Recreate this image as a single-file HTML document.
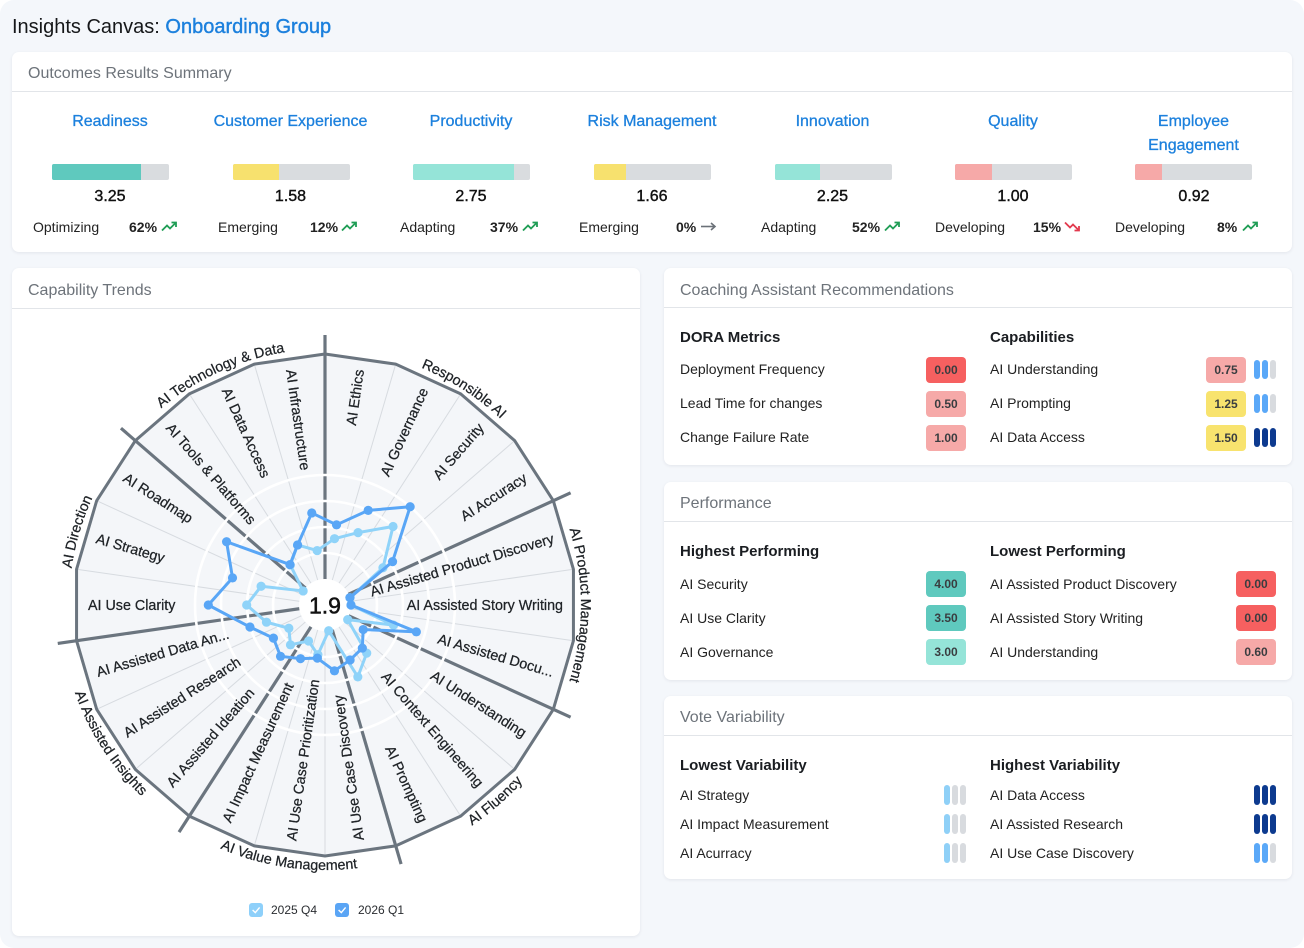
<!DOCTYPE html>
<html><head><meta charset="utf-8">
<style>
*{margin:0;padding:0;box-sizing:border-box}
body{width:1304px;height:948px;background:#fff;font-family:"Liberation Sans",Arial,sans-serif;position:relative;overflow:hidden}
#bg{position:absolute;left:0;top:0;width:1304px;height:948px;background:#f4f7fb;border-radius:14px}
.card{position:absolute;background:#fff;border-radius:7px;box-shadow:0 1px 3px rgba(20,30,50,.08)}
.t{position:absolute;white-space:nowrap;color:#1e2227}
.hd{font-size:16px;line-height:20px;color:#6d737a}
.dv{position:absolute;height:1px;background:#e2e5e9}
.ct{font-size:16px;line-height:24px;color:#1c80dd;text-align:center;width:180px;-webkit-text-stroke:.3px #1c80dd;white-space:normal}
.bar{position:absolute;height:16px;background:#d9dcdf;border-radius:2px;overflow:hidden;width:117px;top:164px}
.bar i{position:absolute;left:0;top:0;height:16px;display:block}
.val{font-size:16px;line-height:20px;text-align:center;width:80px;-webkit-text-stroke:.4px #111;color:#111;top:187px}
.lb{font-size:14px;line-height:18px;color:#222;top:217.5px}
.pc{font-size:14px;line-height:18px;font-weight:bold;color:#222;top:217.5px}
.ar{position:absolute;top:221px}
.sh{font-size:15px;line-height:20px;font-weight:bold;color:#1a1d21}
.row{font-size:14px;line-height:18px;color:#222}
.bd{position:absolute;width:40px;height:26px;border-radius:4px;font-size:12px;line-height:26px;text-align:center;font-weight:bold;color:#3a3d40}
.pl{position:absolute;width:6px;border-radius:3px}
.b{background:#5aa8f8}.n{background:#0d3a8f}.l{background:#8fd0f7}.g{background:#d8dbdf}
</style></head>
<body>
<div id="bg"></div>

<div class="t" style="left:12px;top:14.5px;font-size:20px;line-height:24px;color:#151719">Insights Canvas: <span style="color:#1c80dd;-webkit-text-stroke:.4px #1c80dd">Onboarding Group</span></div>

<!-- Card 1 -->
<div class="card" style="left:12px;top:52px;width:1280px;height:200px"></div>
<div class="t hd" style="left:28px;top:64px">Outcomes Results Summary</div>
<div class="dv" style="left:12px;top:91px;width:1280px"></div>

<div class="t ct" style="left:20px;top:110px">Readiness</div>
<div class="t ct" style="left:200.5px;top:110px">Customer Experience</div>
<div class="t ct" style="left:381px;top:110px">Productivity</div>
<div class="t ct" style="left:562px;top:110px">Risk Management</div>
<div class="t ct" style="left:742.5px;top:110px">Innovation</div>
<div class="t ct" style="left:923px;top:110px">Quality</div>
<div class="t ct" style="left:1103.5px;top:110px">Employee<br>Engagement</div>

<div class="bar" style="left:52px"><i style="width:89px;background:#5fc9be"></i></div>
<div class="bar" style="left:233px"><i style="width:46px;background:#f7e16e"></i></div>
<div class="bar" style="left:413px"><i style="width:101px;background:#95e4d8"></i></div>
<div class="bar" style="left:594px"><i style="width:32px;background:#f7e16e"></i></div>
<div class="bar" style="left:775px"><i style="width:45px;background:#95e4d8"></i></div>
<div class="bar" style="left:955px"><i style="width:37px;background:#f6a9a8"></i></div>
<div class="bar" style="left:1135px"><i style="width:27px;background:#f6a9a8"></i></div>

<div class="t val" style="left:70px">3.25</div>
<div class="t val" style="left:250.5px">1.58</div>
<div class="t val" style="left:431px">2.75</div>
<div class="t val" style="left:612px">1.66</div>
<div class="t val" style="left:792.5px">2.25</div>
<div class="t val" style="left:973px">1.00</div>
<div class="t val" style="left:1154px">0.92</div>

<div class="t lb" style="left:33px">Optimizing</div>
<div class="t pc" style="left:129px">62%</div>
<svg class="ar" style="left:161px" width="17" height="11" viewBox="0 0 17 11"><polyline points="1,9.5 6,4.5 9,7.5 15,1.5" fill="none" stroke="#1f9d55" stroke-width="1.8"/><polyline points="10.5,1.5 15,1.5 15,6" fill="none" stroke="#1f9d55" stroke-width="1.8"/></svg>

<div class="t lb" style="left:218px">Emerging</div>
<div class="t pc" style="left:310px">12%</div>
<svg class="ar" style="left:341px" width="17" height="11" viewBox="0 0 17 11"><polyline points="1,9.5 6,4.5 9,7.5 15,1.5" fill="none" stroke="#1f9d55" stroke-width="1.8"/><polyline points="10.5,1.5 15,1.5 15,6" fill="none" stroke="#1f9d55" stroke-width="1.8"/></svg>

<div class="t lb" style="left:400px">Adapting</div>
<div class="t pc" style="left:490px">37%</div>
<svg class="ar" style="left:522px" width="17" height="11" viewBox="0 0 17 11"><polyline points="1,9.5 6,4.5 9,7.5 15,1.5" fill="none" stroke="#1f9d55" stroke-width="1.8"/><polyline points="10.5,1.5 15,1.5 15,6" fill="none" stroke="#1f9d55" stroke-width="1.8"/></svg>

<div class="t lb" style="left:579px">Emerging</div>
<div class="t pc" style="left:676px">0%</div>
<svg class="ar" style="left:700px" width="17" height="11" viewBox="0 0 17 11"><line x1="1" y1="5.5" x2="15" y2="5.5" stroke="#6b7178" stroke-width="1.6"/><polyline points="11,2 15,5.5 11,9" fill="none" stroke="#6b7178" stroke-width="1.6"/></svg>

<div class="t lb" style="left:761px">Adapting</div>
<div class="t pc" style="left:852px">52%</div>
<svg class="ar" style="left:884px" width="17" height="11" viewBox="0 0 17 11"><polyline points="1,9.5 6,4.5 9,7.5 15,1.5" fill="none" stroke="#1f9d55" stroke-width="1.8"/><polyline points="10.5,1.5 15,1.5 15,6" fill="none" stroke="#1f9d55" stroke-width="1.8"/></svg>

<div class="t lb" style="left:935px">Developing</div>
<div class="t pc" style="left:1033px">15%</div>
<svg class="ar" style="left:1064px" width="17" height="11" viewBox="0 0 17 11"><polyline points="1,1.5 6,6.5 9,3.5 15,9.5" fill="none" stroke="#e23a4e" stroke-width="1.8"/><polyline points="10.5,9.5 15,9.5 15,5" fill="none" stroke="#e23a4e" stroke-width="1.8"/></svg>

<div class="t lb" style="left:1115px">Developing</div>
<div class="t pc" style="left:1217px">8%</div>
<svg class="ar" style="left:1242px" width="17" height="11" viewBox="0 0 17 11"><polyline points="1,9.5 6,4.5 9,7.5 15,1.5" fill="none" stroke="#1f9d55" stroke-width="1.8"/><polyline points="10.5,1.5 15,1.5 15,6" fill="none" stroke="#1f9d55" stroke-width="1.8"/></svg>

<!-- Card 2 -->
<div class="card" style="left:12px;top:268px;width:628px;height:668px"></div>
<div class="t hd" style="left:28px;top:281px">Capability Trends</div>
<div class="dv" style="left:12px;top:308px;width:628px"></div>

<svg style="position:absolute;left:0;top:0" width="660" height="948" viewBox="0 0 660 948" xmlns="http://www.w3.org/2000/svg" xmlns:xlink="http://www.w3.org/1999/xlink">
<defs>
<path id="pt" d="M325,349 A256,256 0 1 1 325,861 A256,256 0 1 1 325,349" fill="none"/>
<path id="pb" d="M325,340 A265,265 0 1 0 325,870 A265,265 0 1 0 325,340" fill="none"/>
</defs>
<polygon points="325,354 395.71,364.17 460.70,393.85 514.69,440.63 553.32,500.73 573.44,569.28 573.44,640.72 553.32,709.27 514.69,769.37 460.70,816.15 395.71,845.83 325,856 254.29,845.83 189.30,816.15 135.31,769.37 96.68,709.27 76.56,640.72 76.56,569.28 96.68,500.73 135.31,440.63 189.30,393.85 254.29,364.17" fill="#f4f6f9"/>
<g stroke="#d7dbe0" stroke-width="1">
<line x1="325" y1="605" x2="395.71" y2="364.17"/>
<line x1="325" y1="605" x2="460.70" y2="393.85"/>
<line x1="325" y1="605" x2="514.69" y2="440.63"/>
<line x1="325" y1="605" x2="573.44" y2="569.28"/>
<line x1="325" y1="605" x2="573.44" y2="640.72"/>
<line x1="325" y1="605" x2="514.69" y2="769.37"/>
<line x1="325" y1="605" x2="460.70" y2="816.15"/>
<line x1="325" y1="605" x2="325" y2="856"/>
<line x1="325" y1="605" x2="254.29" y2="845.83"/>
<line x1="325" y1="605" x2="135.31" y2="769.37"/>
<line x1="325" y1="605" x2="96.68" y2="709.27"/>
<line x1="325" y1="605" x2="76.56" y2="569.28"/>
<line x1="325" y1="605" x2="96.68" y2="500.73"/>
<line x1="325" y1="605" x2="189.30" y2="393.85"/>
<line x1="325" y1="605" x2="254.29" y2="364.17"/>
</g>
<g stroke="#6b757f" stroke-width="3.2">
<line x1="325" y1="605" x2="325" y2="335"/>
<line x1="325" y1="605" x2="570.60" y2="492.84"/>
<line x1="325" y1="605" x2="570.60" y2="717.16"/>
<line x1="325" y1="605" x2="401.07" y2="864.06"/>
<line x1="325" y1="605" x2="179.03" y2="832.14"/>
<line x1="325" y1="605" x2="57.75" y2="643.42"/>
<line x1="325" y1="605" x2="120.95" y2="428.19"/>
</g>
<g fill="none" stroke="#fff" stroke-width="2.6">
<circle cx="325" cy="605" r="52"/>
<circle cx="325" cy="605" r="78"/>
<circle cx="325" cy="605" r="104"/>
<circle cx="325" cy="605" r="130"/>
</g>
<polygon points="325,354 395.71,364.17 460.70,393.85 514.69,440.63 553.32,500.73 573.44,569.28 573.44,640.72 553.32,709.27 514.69,769.37 460.70,816.15 395.71,845.83 325,856 254.29,845.83 189.30,816.15 135.31,769.37 96.68,709.27 76.56,640.72 76.56,569.28 96.68,500.73 135.31,440.63 189.30,393.85 254.29,364.17" fill="none" stroke="#6b757f" stroke-width="3" stroke-linejoin="round"/>
<circle cx="325" cy="605" r="26" fill="#fff"/>

<!-- 2025 Q4 -->
<g fill="#8fd3f9">
<polygon points="334.53,538.68 358.07,532.59 393.04,526.48 382.96,567.75 349.95,597.68 351,605 393.51,625.12 347.71,619.60 366.71,653.14 357.82,676.86 328.70,630.74 317.86,654.69 308.55,641.02 290.49,644.83 288.83,628.25 266.47,622.19 246.7,605 261.10,586.24 303.13,590.94 290.29,564.95 297.58,544.96 317.17,550.56" fill="none" stroke="#8fd3f9" stroke-width="3" stroke-linejoin="round"/>
<circle cx="334.53" cy="538.68" r="4.6"/><circle cx="358.07" cy="532.59" r="4.6"/><circle cx="393.04" cy="526.48" r="4.6"/><circle cx="382.96" cy="567.75" r="4.6"/><circle cx="349.95" cy="597.68" r="4.6"/><circle cx="351" cy="605" r="4.6"/><circle cx="393.51" cy="625.12" r="4.6"/><circle cx="347.71" cy="619.60" r="4.6"/><circle cx="366.71" cy="653.14" r="4.6"/><circle cx="357.82" cy="676.86" r="4.6"/><circle cx="328.70" cy="630.74" r="4.6"/><circle cx="317.86" cy="654.69" r="4.6"/><circle cx="308.55" cy="641.02" r="4.6"/><circle cx="290.49" cy="644.83" r="4.6"/><circle cx="288.83" cy="628.25" r="4.6"/><circle cx="266.47" cy="622.19" r="4.6"/><circle cx="246.7" cy="605" r="4.6"/><circle cx="261.10" cy="586.24" r="4.6"/><circle cx="303.13" cy="590.94" r="4.6"/><circle cx="290.29" cy="564.95" r="4.6"/><circle cx="297.58" cy="544.96" r="4.6"/><circle cx="317.17" cy="550.56" r="4.6"/>
</g>
<!-- 2026 Q1 -->
<g fill="#59a6f6">
<polygon points="336.53,524.82 368.20,510.40 410.13,506.75 392.55,561.59 349.95,597.68 351,605 416.34,631.82 363.19,629.55 362.33,648.08 350.09,659.94 334.46,670.82 317.36,658.15 300.49,658.67 280.53,656.32 273.43,638.14 249.97,627.03 208.3,605 232.51,577.84 226.57,541.75 289.97,564.57 297.58,544.96 311.77,512.95" fill="none" stroke="#59a6f6" stroke-width="3" stroke-linejoin="round"/>
<circle cx="336.53" cy="524.82" r="4.6"/><circle cx="368.20" cy="510.40" r="4.6"/><circle cx="410.13" cy="506.75" r="4.6"/><circle cx="392.55" cy="561.59" r="4.6"/><circle cx="349.95" cy="597.68" r="4.6"/><circle cx="351" cy="605" r="4.6"/><circle cx="416.34" cy="631.82" r="4.6"/><circle cx="363.19" cy="629.55" r="4.6"/><circle cx="362.33" cy="648.08" r="4.6"/><circle cx="350.09" cy="659.94" r="4.6"/><circle cx="334.46" cy="670.82" r="4.6"/><circle cx="317.36" cy="658.15" r="4.6"/><circle cx="300.49" cy="658.67" r="4.6"/><circle cx="280.53" cy="656.32" r="4.6"/><circle cx="273.43" cy="638.14" r="4.6"/><circle cx="249.97" cy="627.03" r="4.6"/><circle cx="208.3" cy="605" r="4.6"/><circle cx="232.51" cy="577.84" r="4.6"/><circle cx="226.57" cy="541.75" r="4.6"/><circle cx="289.97" cy="564.57" r="4.6"/><circle cx="297.58" cy="544.96" r="4.6"/><circle cx="311.77" cy="512.95" r="4.6"/>
</g>

<text x="325" y="605" dy="0.36em" text-anchor="middle" font-family="Liberation Sans, Arial, sans-serif" font-size="23" fill="#111" stroke="#111" stroke-width="0.5">1.9</text>

<g font-family="Liberation Sans, Arial, sans-serif" font-size="14.3" fill="#1e2226" stroke="#1e2226" stroke-width="0.25">
<text x="358.87" y="369.42" dy="0.36em" text-anchor="end" transform="rotate(-81.82 358.87 369.42)">AI Ethics</text>
<text x="423.87" y="388.51" dy="0.36em" text-anchor="end" transform="rotate(-65.45 423.87 388.51)">AI Governance</text>
<text x="480.86" y="425.13" dy="0.36em" text-anchor="end" transform="rotate(-49.09 480.86 425.13)">AI Security</text>
<text x="525.22" y="476.33" dy="0.36em" text-anchor="end" transform="rotate(-32.73 525.22 476.33)">AI Accuracy</text>
<text x="553.36" y="537.95" dy="0.36em" text-anchor="end" transform="rotate(-16.36 553.36 537.95)">AI Assisted Product Discovery</text>
<text x="563" y="605" dy="0.36em" text-anchor="end">AI Assisted Story Writing</text>
<text x="553.36" y="672.05" dy="0.36em" text-anchor="end" transform="rotate(16.36 553.36 672.05)">AI Assisted Docu...</text>
<text x="525.22" y="733.67" dy="0.36em" text-anchor="end" transform="rotate(32.73 525.22 733.67)">AI Understanding</text>
<text x="480.86" y="784.87" dy="0.36em" text-anchor="end" transform="rotate(49.09 480.86 784.87)">AI Context Engineering</text>
<text x="423.87" y="821.49" dy="0.36em" text-anchor="end" transform="rotate(65.45 423.87 821.49)">AI Prompting</text>
<text x="358.87" y="840.58" dy="0.36em" text-anchor="start" transform="rotate(-98.18 358.87 840.58)">AI Use Case Discovery</text>
<text x="291.13" y="840.58" dy="0.36em" text-anchor="start" transform="rotate(-81.82 291.13 840.58)">AI Use Case Prioritization</text>
<text x="226.13" y="821.49" dy="0.36em" text-anchor="start" transform="rotate(-65.45 226.13 821.49)">AI Impact Measurement</text>
<text x="169.14" y="784.87" dy="0.36em" text-anchor="start" transform="rotate(-49.09 169.14 784.87)">AI Assisted Ideation</text>
<text x="124.78" y="733.67" dy="0.36em" text-anchor="start" transform="rotate(-32.73 124.78 733.67)">AI Assisted Research</text>
<text x="96.64" y="672.05" dy="0.36em" text-anchor="start" transform="rotate(-16.36 96.64 672.05)">AI Assisted Data An...</text>
<text x="88" y="605" dy="0.36em" text-anchor="start">AI Use Clarity</text>
<text x="96.64" y="537.95" dy="0.36em" text-anchor="start" transform="rotate(16.36 96.64 537.95)">AI Strategy</text>
<text x="124.78" y="476.33" dy="0.36em" text-anchor="start" transform="rotate(32.73 124.78 476.33)">AI Roadmap</text>
<text x="169.14" y="425.13" dy="0.36em" text-anchor="start" transform="rotate(49.09 169.14 425.13)">AI Tools &amp; Platforms</text>
<text x="226.13" y="388.51" dy="0.36em" text-anchor="start" transform="rotate(65.45 226.13 388.51)">AI Data Access</text>
<text x="291.13" y="369.42" dy="0.36em" text-anchor="start" transform="rotate(81.82 291.13 369.42)">AI Infrastructure</text>

<text><textPath href="#pt" xlink:href="#pt" startOffset="146.2" text-anchor="middle">Responsible AI</textPath></text>
<text><textPath href="#pt" xlink:href="#pt" startOffset="402.1" text-anchor="middle">AI Product Management</textPath></text>
<text><textPath href="#pt" xlink:href="#pt" startOffset="1279.5" text-anchor="middle">AI Direction</textPath></text>
<text><textPath href="#pt" xlink:href="#pt" startOffset="1498.8" text-anchor="middle">AI Technology &amp; Data</textPath></text>
<text><textPath href="#pb" xlink:href="#pb" startOffset="1021.7" text-anchor="middle">AI Fluency</textPath></text>
<text><textPath href="#pb" xlink:href="#pb" startOffset="794.7" text-anchor="middle">AI Value Management</textPath></text>
<text><textPath href="#pb" xlink:href="#pb" startOffset="567.6" text-anchor="middle">AI Assisted Insights</textPath></text>
</g>

<rect x="249" y="903" width="14" height="14" rx="3" fill="#8ed0fa"/>
<polyline points="252.6,910 255.3,912.6 259.6,907.4" fill="none" stroke="#fff" stroke-width="1.4"/>
<text x="271" y="914.2" font-family="Liberation Sans, Arial, sans-serif" font-size="12" fill="#2a2d31">2025 Q4</text>
<rect x="335" y="903" width="14" height="14" rx="3" fill="#5aa5f5"/>
<polyline points="338.6,910 341.3,912.6 345.6,907.4" fill="none" stroke="#fff" stroke-width="1.4"/>
<text x="358" y="914.2" font-family="Liberation Sans, Arial, sans-serif" font-size="12" fill="#2a2d31">2026 Q1</text>
</svg>

<!-- Card 3 -->
<div class="card" style="left:664px;top:268px;width:628px;height:197px"></div>
<div class="t hd" style="left:680px;top:281px">Coaching Assistant Recommendations</div>
<div class="dv" style="left:664px;top:307px;width:628px"></div>
<div class="t sh" style="left:680px;top:327.5px">DORA Metrics</div>
<div class="t sh" style="left:990px;top:327.5px">Capabilities</div>
<div class="t row" style="left:680px;top:360px">Deployment Frequency</div>
<div class="t row" style="left:680px;top:394px">Lead Time for changes</div>
<div class="t row" style="left:680px;top:428px">Change Failure Rate</div>
<div class="bd" style="left:926px;top:356.5px;background:#f66060">0.00</div>
<div class="bd" style="left:926px;top:390.5px;background:#f6a9a8">0.50</div>
<div class="bd" style="left:926px;top:424.5px;background:#f6a9a8">1.00</div>
<div class="t row" style="left:990px;top:360px">AI Understanding</div>
<div class="t row" style="left:990px;top:394px">AI Prompting</div>
<div class="t row" style="left:990px;top:428px">AI Data Access</div>
<div class="bd" style="left:1206px;top:356.5px;background:#f6a9a8">0.75</div>
<div class="bd" style="left:1206px;top:390.5px;background:#f8e36e">1.25</div>
<div class="bd" style="left:1206px;top:424.5px;background:#f8e36e">1.50</div>
<div class="pl b" style="left:1254px;top:360px;height:19px"></div><div class="pl b" style="left:1262px;top:360px;height:19px"></div><div class="pl g" style="left:1270px;top:360px;height:19px"></div>
<div class="pl b" style="left:1254px;top:394px;height:19px"></div><div class="pl b" style="left:1262px;top:394px;height:19px"></div><div class="pl g" style="left:1270px;top:394px;height:19px"></div>
<div class="pl n" style="left:1254px;top:428px;height:19px"></div><div class="pl n" style="left:1262px;top:428px;height:19px"></div><div class="pl n" style="left:1270px;top:428px;height:19px"></div>

<!-- Card 4 -->
<div class="card" style="left:664px;top:482px;width:628px;height:198px"></div>
<div class="t hd" style="left:680px;top:494px">Performance</div>
<div class="dv" style="left:664px;top:521px;width:628px"></div>
<div class="t sh" style="left:680px;top:541.5px">Highest Performing</div>
<div class="t sh" style="left:990px;top:541.5px">Lowest Performing</div>
<div class="t row" style="left:680px;top:574.5px">AI Security</div>
<div class="t row" style="left:680px;top:608.5px">AI Use Clarity</div>
<div class="t row" style="left:680px;top:642.5px">AI Governance</div>
<div class="bd" style="left:926px;top:570.5px;background:#5fc9be">4.00</div>
<div class="bd" style="left:926px;top:604.5px;background:#5fc9be">3.50</div>
<div class="bd" style="left:926px;top:638.5px;background:#95e4d8">3.00</div>
<div class="t row" style="left:990px;top:574.5px">AI Assisted Product Discovery</div>
<div class="t row" style="left:990px;top:608.5px">AI Assisted Story Writing</div>
<div class="t row" style="left:990px;top:642.5px">AI Understanding</div>
<div class="bd" style="left:1236px;top:570.5px;background:#f66060">0.00</div>
<div class="bd" style="left:1236px;top:604.5px;background:#f66060">0.00</div>
<div class="bd" style="left:1236px;top:638.5px;background:#f6a9a8">0.60</div>

<!-- Card 5 -->
<div class="card" style="left:664px;top:696px;width:628px;height:183px"></div>
<div class="t hd" style="left:680px;top:708px">Vote Variability</div>
<div class="dv" style="left:664px;top:735px;width:628px"></div>
<div class="t sh" style="left:680px;top:756px">Lowest Variability</div>
<div class="t sh" style="left:990px;top:756px">Highest Variability</div>
<div class="t row" style="left:680px;top:786px">AI Strategy</div>
<div class="t row" style="left:680px;top:815px">AI Impact Measurement</div>
<div class="t row" style="left:680px;top:844px">AI Acurracy</div>
<div class="t row" style="left:990px;top:786px">AI Data Access</div>
<div class="t row" style="left:990px;top:815px">AI Assisted Research</div>
<div class="t row" style="left:990px;top:844px">AI Use Case Discovery</div>
<div class="pl l" style="left:944px;top:785px;height:20px"></div><div class="pl g" style="left:952px;top:785px;height:20px"></div><div class="pl g" style="left:960px;top:785px;height:20px"></div>
<div class="pl l" style="left:944px;top:814px;height:20px"></div><div class="pl g" style="left:952px;top:814px;height:20px"></div><div class="pl g" style="left:960px;top:814px;height:20px"></div>
<div class="pl l" style="left:944px;top:843px;height:20px"></div><div class="pl g" style="left:952px;top:843px;height:20px"></div><div class="pl g" style="left:960px;top:843px;height:20px"></div>
<div class="pl n" style="left:1254px;top:785px;height:20px"></div><div class="pl n" style="left:1262px;top:785px;height:20px"></div><div class="pl n" style="left:1270px;top:785px;height:20px"></div>
<div class="pl n" style="left:1254px;top:814px;height:20px"></div><div class="pl n" style="left:1262px;top:814px;height:20px"></div><div class="pl n" style="left:1270px;top:814px;height:20px"></div>
<div class="pl b" style="left:1254px;top:843px;height:20px"></div><div class="pl b" style="left:1262px;top:843px;height:20px"></div><div class="pl g" style="left:1270px;top:843px;height:20px"></div>
</body></html>
